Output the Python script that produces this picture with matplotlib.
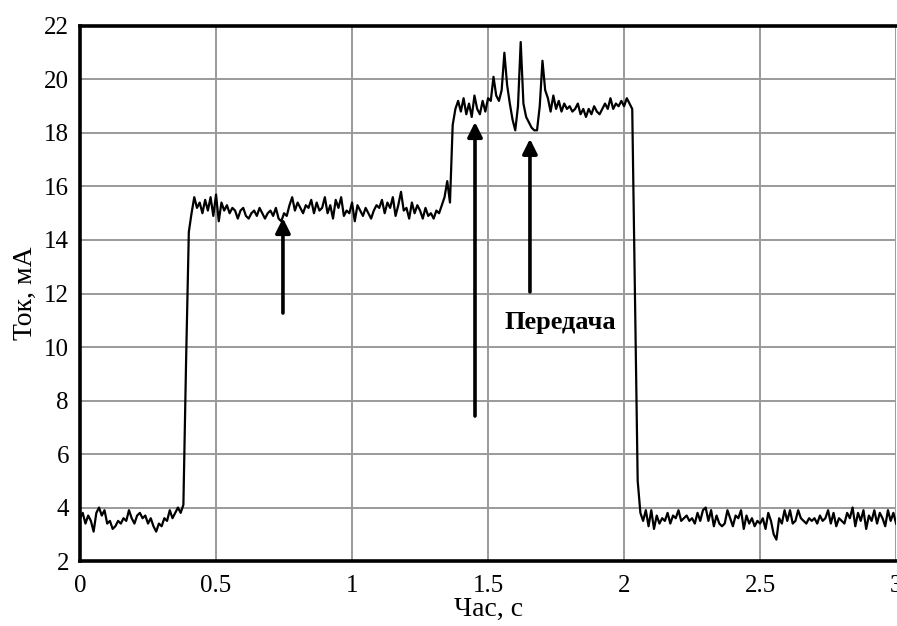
import numpy as np
import matplotlib
matplotlib.use("Agg")
import matplotlib.pyplot as plt

# time grid, s (sampled every 10 ms)
time_s = np.linspace(0.0, 3.0, 301)

# current, mA
current_ma = [
    3.6, 3.8, 3.4, 3.7, 3.5, 3.1, 3.8, 4.0, 3.7, 3.9,
    3.4, 3.5, 3.2, 3.3, 3.5, 3.4, 3.6, 3.5, 3.9, 3.6,
    3.4, 3.7, 3.8, 3.6, 3.7, 3.4, 3.6, 3.3, 3.1, 3.4,
    3.3, 3.6, 3.5, 3.9, 3.6, 3.8, 4.0, 3.8, 4.1, 9.5,
    14.3, 15.0, 15.6, 15.2, 15.4, 15.0, 15.5, 15.1, 15.6, 14.9,
    15.7, 14.7, 15.4, 15.1, 15.3, 15.0, 15.2, 15.1, 14.8, 15.1,
    15.2, 14.9, 14.8, 15.0, 15.1, 14.9, 15.2, 15.0, 14.8, 15.0,
    15.1, 14.9, 15.2, 14.8, 14.7, 15.0, 14.9, 15.3, 15.6, 15.1,
    15.4, 15.2, 15.0, 15.3, 15.2, 15.5, 15.0, 15.4, 15.1, 15.2,
    15.6, 15.0, 15.3, 14.8, 15.5, 15.2, 15.6, 14.9, 15.1, 15.0,
    15.4, 14.7, 15.3, 15.1, 14.9, 15.2, 15.0, 14.8, 15.1, 15.3,
    15.2, 15.5, 15.0, 15.4, 15.2, 15.6, 14.9, 15.3, 15.8, 15.1,
    15.2, 14.8, 15.4, 15.0, 15.3, 15.1, 14.8, 15.2, 14.9, 15.0,
    14.8, 15.1, 15.0, 15.3, 15.6, 16.2, 15.4, 18.3, 18.9, 19.2,
    18.8, 19.3, 18.7, 19.1, 18.6, 19.4, 18.9, 18.7, 19.2, 18.8,
    19.3, 19.2, 20.1, 19.4, 19.2, 19.6, 21.0, 19.8, 19.1, 18.5,
    18.1, 19.0, 21.4, 19.1, 18.6, 18.4, 18.2, 18.1, 18.1, 19.0,
    20.7, 19.6, 19.3, 18.8, 19.4, 18.9, 19.2, 18.8, 19.1, 18.9,
    19.0, 18.8, 18.9, 19.1, 18.7, 18.9, 18.6, 18.9, 18.7, 19.0,
    18.8, 18.7, 18.9, 19.1, 18.9, 19.3, 18.9, 19.1, 19.0, 19.2,
    19.0, 19.3, 19.1, 18.9, 12.0, 5.0, 3.8, 3.5, 3.9, 3.3,
    3.9, 3.2, 3.7, 3.4, 3.6, 3.5, 3.8, 3.4, 3.7, 3.6,
    3.9, 3.5, 3.6, 3.7, 3.5, 3.6, 3.4, 3.8, 3.5, 3.9,
    4.0, 3.5, 3.9, 3.3, 3.7, 3.4, 3.3, 3.4, 3.9, 3.6,
    3.3, 3.7, 3.6, 3.9, 3.2, 3.7, 3.4, 3.6, 3.3, 3.5,
    3.4, 3.6, 3.2, 3.8, 3.5, 3.0, 2.8, 3.6, 3.4, 3.9,
    3.5, 3.9, 3.4, 3.5, 3.9, 3.6, 3.5, 3.4, 3.6, 3.5,
    3.6, 3.4, 3.7, 3.5, 3.6, 3.9, 3.4, 3.8, 3.3, 3.6,
    3.5, 3.4, 3.8, 3.6, 4.0, 3.3, 3.8, 3.5, 3.9, 3.2,
    3.7, 3.5, 3.9, 3.4, 3.8, 3.6, 3.3, 3.9, 3.5, 3.8, 3.4,
]

# arrows: x position, tail value, tip value
arrow_x = [0.746, 1.452, 1.654]
arrow_tail = [11.27, 7.42, 12.06]
arrow_tip = [14.82, 18.41, 17.78]

x_ticks = [0, 0.5, 1, 1.5, 2, 2.5, 3]
x_tick_labels = ["0", "0.5", "1", "1.5", "2", "2.5", "3"]
y_ticks = [2, 4, 6, 8, 10, 12, 14, 16, 18, 20, 22]

plt.rcParams["font.family"] = ["Liberation Serif", "DejaVu Serif"]

fig = plt.figure(figsize=(8.97, 6.26), dpi=100)
ax = fig.add_axes([0.0892, 0.1038, 0.9098, 0.8547])

ax.plot(time_s, current_ma, color="black", lw=1.6)

for x, tail, tip in zip(arrow_x, arrow_tail, arrow_tip):
    ax.annotate("", xy=(x, tip), xytext=(x, tail),
                arrowprops=dict(arrowstyle="-|>", color="black", lw=2.6,
                                mutation_scale=22, shrinkA=0, shrinkB=0))

ax.text(1.765, 10.9, "Передача", fontsize=19, fontweight="bold",
        ha="center", va="center")

ax.set_xlim(0, 3)
ax.set_ylim(2, 22)
ax.set_xticks(x_ticks)
ax.set_xticklabels(x_tick_labels)
ax.set_yticks(y_ticks)
ax.tick_params(length=0, labelsize=18)
ax.tick_params(axis="x", pad=10)
ax.tick_params(axis="y", pad=8)

ax.grid(True, color="#9a9a9a", lw=1.4)
ax.set_axisbelow(True)
for side in ["left", "bottom", "top"]:
    ax.spines[side].set_linewidth(2.6)
ax.spines["right"].set_visible(False)

ax.set_xlabel("Час, с", fontsize=20)
ax.set_ylabel("Ток, мА", fontsize=20)
ax.xaxis.set_label_coords(0.5, -0.068)
ax.yaxis.set_label_coords(-0.052, 0.5)

fig.savefig("out.png", dpi=100)
